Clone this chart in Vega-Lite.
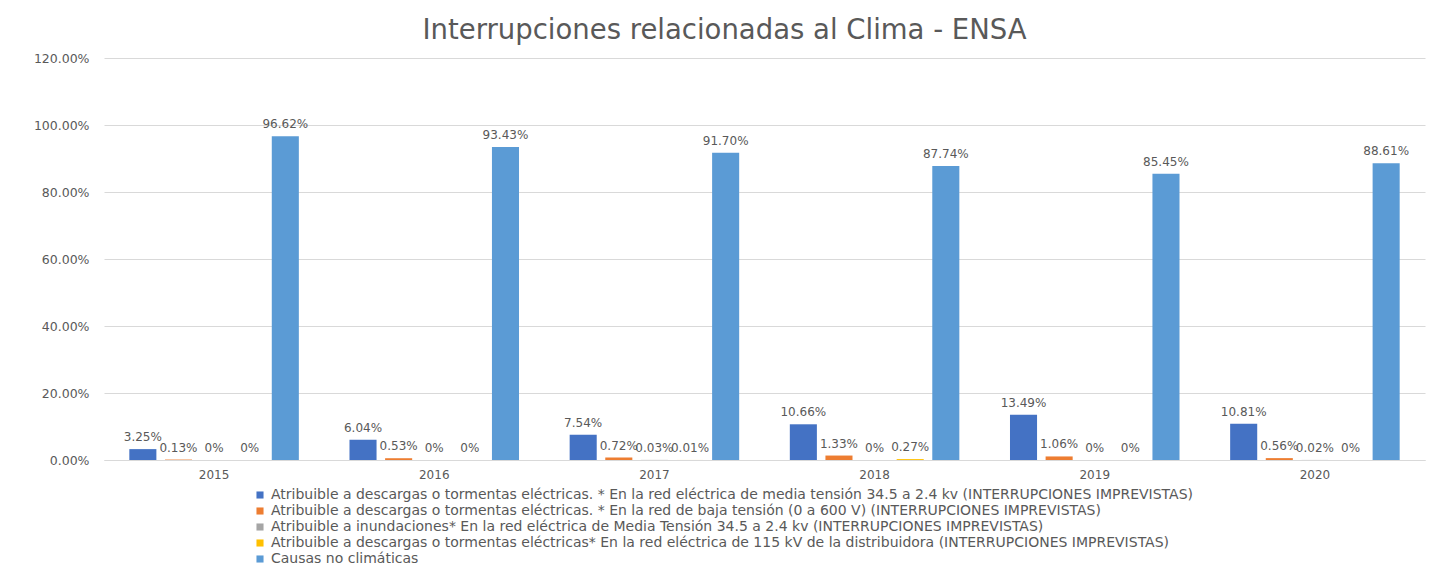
{
  "$schema": "https://vega.github.io/schema/vega-lite/v6.json",
  "width": 1321,
  "height": 402,
  "autosize": {"type": "none"},
  "padding": {"left": 104, "top": 58, "right": 15, "bottom": 120},
  "background": "white",
  "title": {
    "text": "Interrupciones relacionadas al Clima - ENSA",
    "anchor": "middle",
    "dx": -40,
    "offset": 8,
    "fontSize": 27.5,
    "font": "DejaVu Sans",
    "fontWeight": "normal",
    "color": "#595959"
  },
  "config": {
    "view": {"stroke": null},
    "font": "DejaVu Sans"
  },
  "data": {
    "values": [
      {"year": "2015", "serie": "s1", "v": 0.0325},
      {"year": "2015", "serie": "s2", "v": 0.0013},
      {"year": "2015", "serie": "s3", "v": 0},
      {"year": "2015", "serie": "s4", "v": 0},
      {"year": "2015", "serie": "s5", "v": 0.9662},
      {"year": "2016", "serie": "s1", "v": 0.0604},
      {"year": "2016", "serie": "s2", "v": 0.0053},
      {"year": "2016", "serie": "s3", "v": 0},
      {"year": "2016", "serie": "s4", "v": 0},
      {"year": "2016", "serie": "s5", "v": 0.9343},
      {"year": "2017", "serie": "s1", "v": 0.0754},
      {"year": "2017", "serie": "s2", "v": 0.0072},
      {"year": "2017", "serie": "s3", "v": 0.0003},
      {"year": "2017", "serie": "s4", "v": 0.0001},
      {"year": "2017", "serie": "s5", "v": 0.917},
      {"year": "2018", "serie": "s1", "v": 0.1066},
      {"year": "2018", "serie": "s2", "v": 0.0133},
      {"year": "2018", "serie": "s3", "v": 0},
      {"year": "2018", "serie": "s4", "v": 0.0027},
      {"year": "2018", "serie": "s5", "v": 0.8774},
      {"year": "2019", "serie": "s1", "v": 0.1349},
      {"year": "2019", "serie": "s2", "v": 0.0106},
      {"year": "2019", "serie": "s3", "v": 0},
      {"year": "2019", "serie": "s4", "v": 0},
      {"year": "2019", "serie": "s5", "v": 0.8545},
      {"year": "2020", "serie": "s1", "v": 0.1081},
      {"year": "2020", "serie": "s2", "v": 0.0056},
      {"year": "2020", "serie": "s3", "v": 0.0002},
      {"year": "2020", "serie": "s4", "v": 0},
      {"year": "2020", "serie": "s5", "v": 0.8861}
    ]
  },
  "transform": [
    {"lookup": "serie", "from": {"data": {"values": [
      {"serie": "s1", "name": "Atribuible a descargas o tormentas eléctricas. * En la red eléctrica de media tensión 34.5 a 2.4 kv (INTERRUPCIONES IMPREVISTAS)"},
      {"serie": "s2", "name": "Atribuible a descargas o tormentas eléctricas. * En la red de baja tensión (0 a 600 V) (INTERRUPCIONES IMPREVISTAS)"},
      {"serie": "s3", "name": "Atribuible a inundaciones* En la red eléctrica de Media Tensión 34.5 a 2.4 kv (INTERRUPCIONES IMPREVISTAS)"},
      {"serie": "s4", "name": "Atribuible a descargas o tormentas eléctricas* En la red eléctrica de 115 kV de la distribuidora (INTERRUPCIONES IMPREVISTAS)"},
      {"serie": "s5", "name": "Causas no climáticas"}
    ]}, "key": "serie", "fields": ["name"]}},
    {"calculate": "datum.v == 0 ? '0%' : format(datum.v, '.2%')", "as": "label"}
  ],
  "encoding": {
    "x": {
      "field": "year", "type": "nominal",
      "scale": {"paddingInner": 0.23, "paddingOuter": 0.115},
      "axis": {
        "title": null, "labelAngle": 0, "ticks": false,
        "domainColor": "#d9d9d9", "labelColor": "#595959",
        "labelFontSize": 12, "labelPadding": 9
      }
    },
    "xOffset": {
      "field": "serie", "type": "nominal",
      "scale": {"domain": ["s1", "s2", "s3", "s4", "s5"], "paddingInner": 0.24}
    },
    "y": {
      "field": "v", "type": "quantitative",
      "scale": {"domain": [0, 1.2]},
      "axis": {
        "title": null, "format": ".2%", "values": [0, 0.2, 0.4, 0.6, 0.8, 1.0, 1.2],
        "domain": false, "ticks": false, "gridColor": "#d9d9d9",
        "labelColor": "#595959", "labelFontSize": 12.5, "labelPadding": 15
      }
    }
  },
  "layer": [
    {
      "mark": {"type": "bar"},
      "encoding": {
        "color": {
          "field": "name", "type": "nominal",
          "scale": {
            "domain": [
              "Atribuible a descargas o tormentas eléctricas. * En la red eléctrica de media tensión 34.5 a 2.4 kv (INTERRUPCIONES IMPREVISTAS)",
              "Atribuible a descargas o tormentas eléctricas. * En la red de baja tensión (0 a 600 V) (INTERRUPCIONES IMPREVISTAS)",
              "Atribuible a inundaciones* En la red eléctrica de Media Tensión 34.5 a 2.4 kv (INTERRUPCIONES IMPREVISTAS)",
              "Atribuible a descargas o tormentas eléctricas* En la red eléctrica de 115 kV de la distribuidora (INTERRUPCIONES IMPREVISTAS)",
              "Causas no climáticas"
            ],
            "range": ["#4472C4", "#ED7D31", "#A5A5A5", "#FFC000", "#5B9BD5"]
          },
          "legend": {
            "title": null, "orient": "none", "legendX": 149, "legendY": 430,
            "direction": "vertical", "symbolType": "square", "symbolSize": 50,
            "labelFontSize": 14, "labelColor": "#595959", "labelLimit": 0,
            "rowPadding": 2
          }
        }
      }
    },
    {
      "mark": {"type": "text", "baseline": "bottom", "dy": -5, "fontSize": 12, "color": "#595959"},
      "encoding": {"text": {"field": "label"}}
    }
  ]
}
